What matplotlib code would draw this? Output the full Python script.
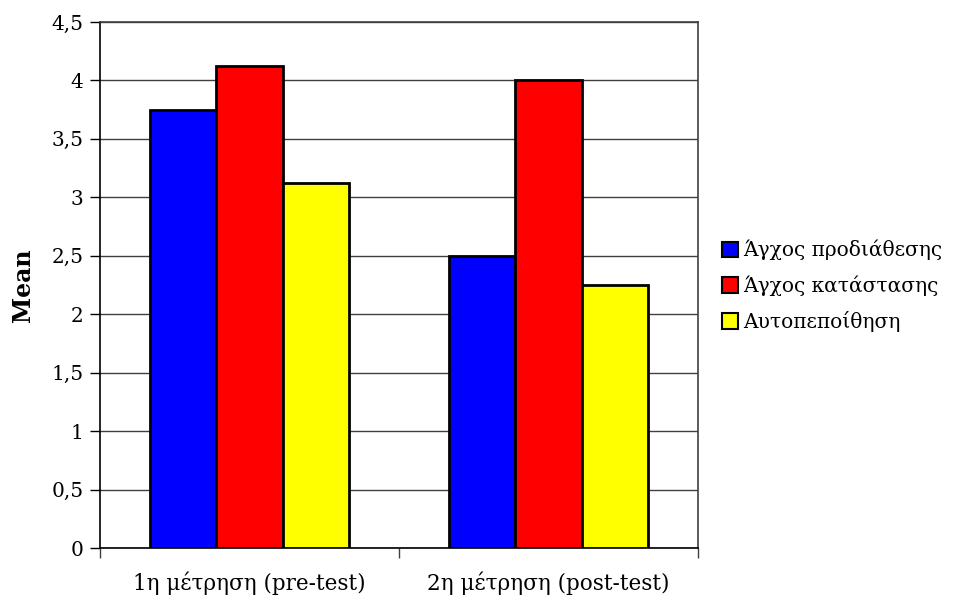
import matplotlib
matplotlib.use("Agg")
import matplotlib.pyplot as plt
import numpy as np
from matplotlib.ticker import FuncFormatter, FixedLocator

categories = ["1η μέτρηση (pre-test)", "2η μέτρηση (post-test)"]
series_names = ["Άγχος προδιάθεσης", "Άγχος κατάστασης", "Αυτοπεποίθηση"]
anxiety_trait = [3.75, 2.5]
anxiety_state = [4.125, 4.0]
self_confidence = [3.125, 2.25]
colors = ["#0000FF", "#FF0000", "#FFFF00"]
yticks = [0, 0.5, 1, 1.5, 2, 2.5, 3, 3.5, 4, 4.5]

plt.rcParams['font.family'] = ['DejaVu Serif']

fig = plt.figure(figsize=(9.66, 6.01), dpi=100)
ax = fig.add_axes([100/966, 1-548/601, 598/966, 526/601])

x = np.arange(len(categories))
w = 0.2225
for i, (vals, c, name) in enumerate(zip([anxiety_trait, anxiety_state, self_confidence], colors, series_names)):
    ax.bar(x + (i-1)*w, vals, width=w, color=c, edgecolor='black', linewidth=2, label=name, zorder=3)

ax.set_xlim(-0.5, 1.5)
ax.set_ylim(0, 4.5)
ax.set_yticks(yticks)
ax.yaxis.set_major_formatter(FuncFormatter(lambda v, p: ('%g' % v).replace('.', ',')))
ax.yaxis.grid(True, color='#404040', linewidth=1, zorder=0)
ax.set_axisbelow(True)

ax.xaxis.set_major_locator(FixedLocator([-0.5, 0.5, 1.5]))
ax.xaxis.set_major_formatter(FuncFormatter(lambda v, p: ''))
ax.xaxis.set_minor_locator(FixedLocator(list(x)))
ax.set_xticklabels(categories, minor=True)
ax.tick_params(axis='x', which='minor', length=0, pad=17, labelsize=15.5)
ax.tick_params(axis='x', which='major', length=7, width=1, color='#404040')
ax.tick_params(axis='y', length=7, width=1, labelsize=14.5, pad=5)

for s in ['top', 'right']:
    ax.spines[s].set_color('#404040')
    ax.spines[s].set_linewidth(1.2)
for s in ['left', 'bottom']:
    ax.spines[s].set_color('black')
    ax.spines[s].set_linewidth(1.2)

ax.set_ylabel('Mean', fontsize=17, fontweight='bold', labelpad=12)

leg = fig.legend(loc='center left', bbox_to_anchor=(722/966, 1-286/601), frameon=False,
                 fontsize=14.5, handlelength=0.8, handleheight=0.8, handletextpad=0.25,
                 labelspacing=0.75, borderpad=0, borderaxespad=0)
for h in leg.legend_handles:
    h.set_linewidth(1.5)

fig.savefig('out.png', dpi=100)
